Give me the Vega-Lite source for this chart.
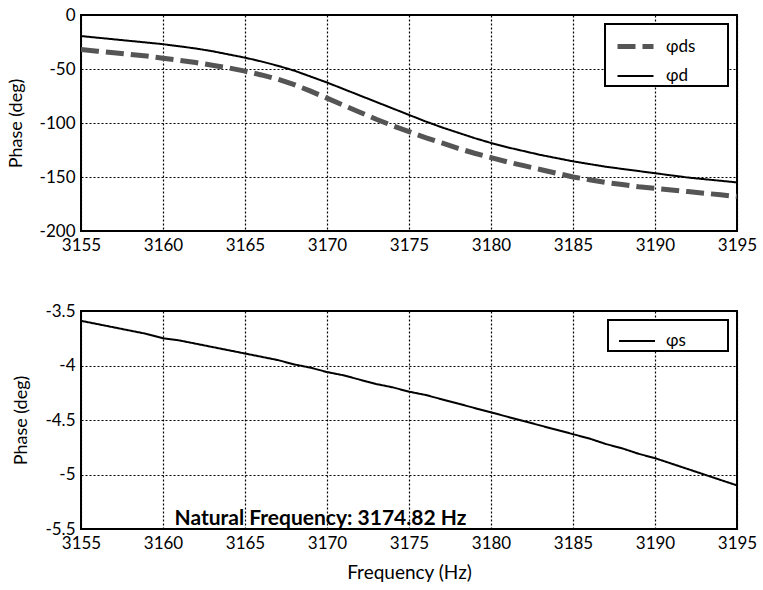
{
  "$schema": "https://vega.github.io/schema/vega-lite/v6.json",
  "background": "white",
  "padding": {"left": 6, "top": 5, "right": 10, "bottom": 5},
  "config": {
    "font": "Lato",
    "view": {"stroke": "black", "strokeWidth": 2},
    "axis": {
      "grid": true, "gridColor": "black", "gridDash": [2, 2], "gridWidth": 1.2, "gridOpacity": 1,
      "domain": false, "ticks": false,
      "labelFont": "Lato", "labelFontSize": 17, "labelColor": "black", "labelPadding": 6,
      "labelFlush": false, "labelOverlap": false, "labelBound": false,
      "labelExpr": "'' + datum.value",
      "titleFont": "Lato", "titleFontSize": 18, "titleFontWeight": "normal", "titleColor": "black"
    },
    "axisY": {"titlePadding": 14},
    "legend": {
      "orient": "top-right", "offset": 9, "strokeColor": "black", "strokeWidth": 2, "fillColor": "white",
      "padding": 2, "rowPadding": -12, "symbolOffset": 8, "symbolType": "stroke", "symbolSize": 1296,
      "symbolStrokeWidth": 2,
      "labelFont": "Lato", "labelFontSize": 17, "labelColor": "black", "labelOffset": 10
    }
  },
  "spacing": 47,
  "resolve": {
    "scale": {"color": "independent", "strokeDash": "independent", "strokeWidth": "independent"},
    "legend": {"color": "independent", "strokeDash": "independent", "strokeWidth": "independent"}
  },
  "datasets": {
    "top": [
      {"f": 3155, "phase": -19.5, "series": "φd"}, {"f": 3156, "phase": -21, "series": "φd"},
      {"f": 3157, "phase": -22.5, "series": "φd"}, {"f": 3158, "phase": -24, "series": "φd"},
      {"f": 3159, "phase": -25.5, "series": "φd"}, {"f": 3160, "phase": -27, "series": "φd"},
      {"f": 3161, "phase": -29, "series": "φd"}, {"f": 3162, "phase": -31, "series": "φd"},
      {"f": 3163, "phase": -33.5, "series": "φd"}, {"f": 3164, "phase": -36.5, "series": "φd"},
      {"f": 3165, "phase": -39.5, "series": "φd"}, {"f": 3166, "phase": -43, "series": "φd"},
      {"f": 3167, "phase": -47, "series": "φd"}, {"f": 3168, "phase": -51.5, "series": "φd"},
      {"f": 3169, "phase": -57, "series": "φd"}, {"f": 3170, "phase": -62.5, "series": "φd"},
      {"f": 3171, "phase": -68.5, "series": "φd"}, {"f": 3172, "phase": -74.5, "series": "φd"},
      {"f": 3173, "phase": -80.5, "series": "φd"}, {"f": 3174, "phase": -86.5, "series": "φd"},
      {"f": 3175, "phase": -92.5, "series": "φd"}, {"f": 3176, "phase": -98.5, "series": "φd"},
      {"f": 3177, "phase": -104, "series": "φd"}, {"f": 3178, "phase": -109, "series": "φd"},
      {"f": 3179, "phase": -114, "series": "φd"}, {"f": 3180, "phase": -118.5, "series": "φd"},
      {"f": 3181, "phase": -122.5, "series": "φd"}, {"f": 3182, "phase": -126, "series": "φd"},
      {"f": 3183, "phase": -129.5, "series": "φd"}, {"f": 3184, "phase": -132.5, "series": "φd"},
      {"f": 3185, "phase": -135.5, "series": "φd"}, {"f": 3186, "phase": -138, "series": "φd"},
      {"f": 3187, "phase": -140.5, "series": "φd"}, {"f": 3188, "phase": -142.5, "series": "φd"},
      {"f": 3189, "phase": -144.5, "series": "φd"}, {"f": 3190, "phase": -146.5, "series": "φd"},
      {"f": 3191, "phase": -148.5, "series": "φd"}, {"f": 3192, "phase": -150.5, "series": "φd"},
      {"f": 3193, "phase": -152, "series": "φd"}, {"f": 3194, "phase": -153.5, "series": "φd"},
      {"f": 3195, "phase": -155, "series": "φd"},
      {"f": 3155, "phase": -32, "series": "φds"}, {"f": 3156, "phase": -33.5, "series": "φds"},
      {"f": 3157, "phase": -35, "series": "φds"}, {"f": 3158, "phase": -36.5, "series": "φds"},
      {"f": 3159, "phase": -38, "series": "φds"}, {"f": 3160, "phase": -40, "series": "φds"},
      {"f": 3161, "phase": -42, "series": "φds"}, {"f": 3162, "phase": -44, "series": "φds"},
      {"f": 3163, "phase": -46.5, "series": "φds"}, {"f": 3164, "phase": -49, "series": "φds"},
      {"f": 3165, "phase": -52, "series": "φds"}, {"f": 3166, "phase": -55.5, "series": "φds"},
      {"f": 3167, "phase": -59.5, "series": "φds"}, {"f": 3168, "phase": -64.5, "series": "φds"},
      {"f": 3169, "phase": -70.5, "series": "φds"}, {"f": 3170, "phase": -77, "series": "φds"},
      {"f": 3171, "phase": -83.5, "series": "φds"}, {"f": 3172, "phase": -90, "series": "φds"},
      {"f": 3173, "phase": -96.5, "series": "φds"}, {"f": 3174, "phase": -102.5, "series": "φds"},
      {"f": 3175, "phase": -108, "series": "φds"}, {"f": 3176, "phase": -113.5, "series": "φds"},
      {"f": 3177, "phase": -118.5, "series": "φds"}, {"f": 3178, "phase": -123.5, "series": "φds"},
      {"f": 3179, "phase": -128, "series": "φds"}, {"f": 3180, "phase": -132, "series": "φds"},
      {"f": 3181, "phase": -136, "series": "φds"}, {"f": 3182, "phase": -139.5, "series": "φds"},
      {"f": 3183, "phase": -143, "series": "φds"}, {"f": 3184, "phase": -146.5, "series": "φds"},
      {"f": 3185, "phase": -150, "series": "φds"}, {"f": 3186, "phase": -152.5, "series": "φds"},
      {"f": 3187, "phase": -155, "series": "φds"}, {"f": 3188, "phase": -157, "series": "φds"},
      {"f": 3189, "phase": -159, "series": "φds"}, {"f": 3190, "phase": -160.5, "series": "φds"},
      {"f": 3191, "phase": -162, "series": "φds"}, {"f": 3192, "phase": -163.5, "series": "φds"},
      {"f": 3193, "phase": -165, "series": "φds"}, {"f": 3194, "phase": -166.5, "series": "φds"},
      {"f": 3195, "phase": -168, "series": "φds"}
    ],
    "bottom": [
      {"f": 3155, "phase": -3.59, "series": "φs"}, {"f": 3156, "phase": -3.62, "series": "φs"},
      {"f": 3157, "phase": -3.65, "series": "φs"}, {"f": 3158, "phase": -3.68, "series": "φs"},
      {"f": 3159, "phase": -3.71, "series": "φs"}, {"f": 3160, "phase": -3.75, "series": "φs"},
      {"f": 3161, "phase": -3.77, "series": "φs"}, {"f": 3162, "phase": -3.8, "series": "φs"},
      {"f": 3163, "phase": -3.83, "series": "φs"}, {"f": 3164, "phase": -3.86, "series": "φs"},
      {"f": 3165, "phase": -3.89, "series": "φs"}, {"f": 3166, "phase": -3.92, "series": "φs"},
      {"f": 3167, "phase": -3.95, "series": "φs"}, {"f": 3168, "phase": -3.99, "series": "φs"},
      {"f": 3169, "phase": -4.02, "series": "φs"}, {"f": 3170, "phase": -4.06, "series": "φs"},
      {"f": 3171, "phase": -4.09, "series": "φs"}, {"f": 3172, "phase": -4.13, "series": "φs"},
      {"f": 3173, "phase": -4.17, "series": "φs"}, {"f": 3174, "phase": -4.2, "series": "φs"},
      {"f": 3175, "phase": -4.24, "series": "φs"}, {"f": 3176, "phase": -4.27, "series": "φs"},
      {"f": 3177, "phase": -4.31, "series": "φs"}, {"f": 3178, "phase": -4.35, "series": "φs"},
      {"f": 3179, "phase": -4.39, "series": "φs"}, {"f": 3180, "phase": -4.43, "series": "φs"},
      {"f": 3181, "phase": -4.47, "series": "φs"}, {"f": 3182, "phase": -4.51, "series": "φs"},
      {"f": 3183, "phase": -4.55, "series": "φs"}, {"f": 3184, "phase": -4.59, "series": "φs"},
      {"f": 3185, "phase": -4.63, "series": "φs"}, {"f": 3186, "phase": -4.67, "series": "φs"},
      {"f": 3187, "phase": -4.72, "series": "φs"}, {"f": 3188, "phase": -4.76, "series": "φs"},
      {"f": 3189, "phase": -4.81, "series": "φs"}, {"f": 3190, "phase": -4.85, "series": "φs"},
      {"f": 3191, "phase": -4.9, "series": "φs"}, {"f": 3192, "phase": -4.95, "series": "φs"},
      {"f": 3193, "phase": -5.0, "series": "φs"}, {"f": 3194, "phase": -5.05, "series": "φs"},
      {"f": 3195, "phase": -5.1, "series": "φs"}
    ]
  },
  "vconcat": [
    {
      "width": 656, "height": 216,
      "data": {"name": "top"},
      "mark": {"type": "line", "clip": true},
      "encoding": {
        "x": {"field": "f", "type": "quantitative", "scale": {"domain": [3155, 3195], "nice": false},
              "axis": {"title": null, "values": [3155, 3160, 3165, 3170, 3175, 3180, 3185, 3190, 3195]}},
        "y": {"field": "phase", "type": "quantitative", "scale": {"domain": [-200, 0], "nice": false},
              "axis": {"title": "Phase (deg)", "values": [-200, -150, -100, -50, 0]}},
        "color": {"field": "series", "type": "nominal", "sort": ["φds", "φd"],
                  "scale": {"domain": ["φds", "φd"], "range": ["#555555", "#000000"]},
                  "legend": {"title": null, "labelExpr": "datum.label + '\u00a0\u00a0\u00a0\u00a0\u00a0\u00a0\u00a0\u200b'"}},
        "strokeDash": {"field": "series", "type": "nominal", "sort": ["φds", "φd"],
                  "scale": {"domain": ["φds", "φd"], "range": [[18, 7], [1, 0]]},
                  "legend": {"title": null, "labelExpr": "datum.label + '\u00a0\u00a0\u00a0\u00a0\u00a0\u00a0\u00a0\u200b'"}},
        "strokeWidth": {"field": "series", "type": "nominal", "sort": ["φds", "φd"],
                  "scale": {"domain": ["φds", "φd"], "range": [5, 2]},
                  "legend": {"title": null, "labelExpr": "datum.label + '\u00a0\u00a0\u00a0\u00a0\u00a0\u00a0\u00a0\u200b'"}}
      }
    },
    {
      "width": 656, "height": 218,
      "layer": [
        {
          "data": {"name": "bottom"},
          "mark": {"type": "line", "clip": true, "strokeWidth": 2},
          "encoding": {
            "x": {"field": "f", "type": "quantitative", "scale": {"domain": [3155, 3195], "nice": false},
                  "axis": {"title": "Frequency (Hz)", "titleFontSize": 19, "titlePadding": 12, "values": [3155, 3160, 3165, 3170, 3175, 3180, 3185, 3190, 3195]}},
            "y": {"field": "phase", "type": "quantitative", "scale": {"domain": [-5.5, -3.5], "nice": false},
                  "axis": {"title": "Phase (deg)", "values": [-5.5, -5, -4.5, -4, -3.5]}},
            "color": {"field": "series", "type": "nominal", "scale": {"domain": ["φs"], "range": ["#000000"]},
                      "legend": {"title": null, "labelExpr": "datum.label + '\u00a0\u00a0\u00a0\u00a0\u00a0\u00a0\u00a0\u00a0\u00a0\u200b'"}},
            "strokeDash": {"field": "series", "type": "nominal", "scale": {"domain": ["φs"], "range": [[1, 0]]},
                      "legend": {"title": null, "labelExpr": "datum.label + '\u00a0\u00a0\u00a0\u00a0\u00a0\u00a0\u00a0\u00a0\u00a0\u200b'"}}
          }
        },
        {
          "data": {"values": [{}]},
          "mark": {"type": "text", "text": "Natural Frequency: 3174.82 Hz", "font": "Lato", "fontWeight": "bold", "fontSize": 21, "color": "black", "align": "center", "baseline": "middle"},
          "encoding": {
            "x": {"datum": 3169.6, "type": "quantitative"},
            "y": {"datum": -5.41, "type": "quantitative"}
          }
        }
      ]
    }
  ]
}
